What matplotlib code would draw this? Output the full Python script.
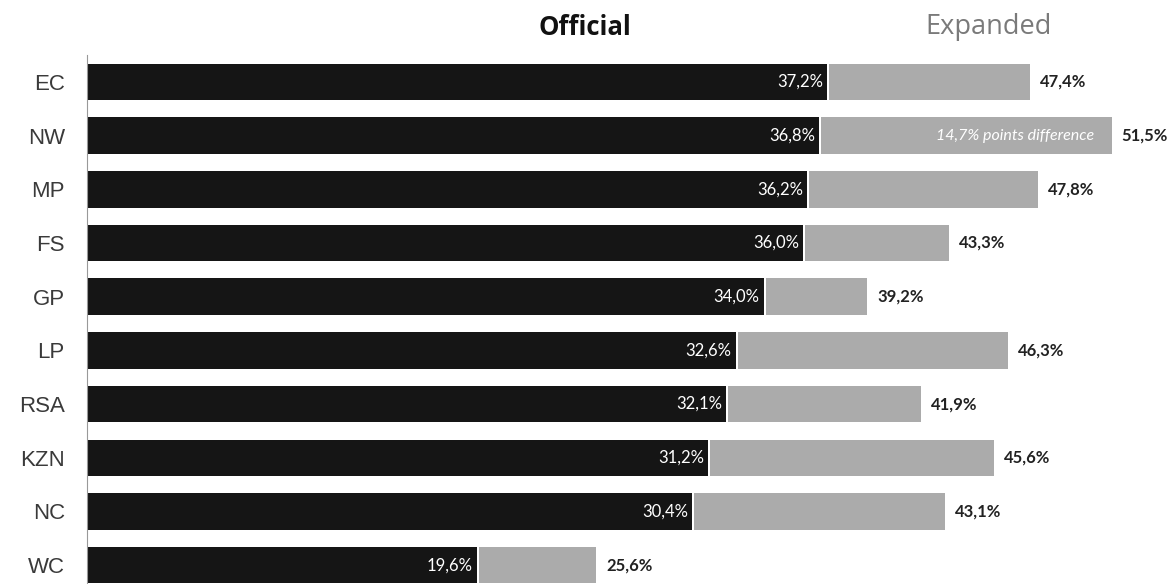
import matplotlib
matplotlib.use("Agg")
import matplotlib.pyplot as plt
import numpy as np

# Provinces, official vs expanded unemployment rate (%)
provinces = ["EC", "NW", "MP", "FS", "GP", "LP", "RSA", "KZN", "NC", "WC"]
official = [37.2, 36.8, 36.2, 36.0, 34.0, 32.6, 32.1, 31.2, 30.4, 19.6]
expanded = [47.4, 51.5, 47.8, 43.3, 39.2, 46.3, 41.9, 45.6, 43.1, 25.6]

dark = "#151515"
grey = "#ababab"

fig = plt.figure(figsize=(11.76, 5.84), dpi=100)
ax = fig.add_axes([87 / 1176, 0, (1176 - 87) / 1176, 529 / 584])

y = np.arange(len(provinces))
off = np.array(official)
exp = np.array(expanded)
h = 0.68

ax.barh(y, off, height=h, color=dark)
ax.barh(y, exp - off - 0.1, left=off + 0.1, height=h, color=grey)

for i in range(len(provinces)):
    ax.text(off[i] - 0.2, y[i], f"{official[i]:.1f}%".replace(".", ","),
            color="white", ha="right", va="center", fontsize=12, family="Lato")
    ax.text(exp[i] + 0.5, y[i], f"{expanded[i]:.1f}%".replace(".", ","),
            color="#222222", ha="left", va="center", fontsize=12,
            fontweight="bold", family="Lato")

# note inside the NW bar
nw = provinces.index("NW")
diff = expanded[nw] - official[nw]
ax.text(exp[nw] - 0.9, y[nw], f"{diff:.1f}% points difference".replace(".", ","),
        color="white", ha="right", va="center", fontsize=11.5, style="italic",
        family="Lato")

ax.set_xlim(0, (1176 - 87) / 19.9)
ax.set_ylim(9.35, -0.5)
ax.set_yticks(y, provinces)
ax.tick_params(axis="y", length=0, pad=16, labelsize=16, labelcolor="#3a3a3a")
for lab in ax.get_yticklabels():
    lab.set_family("Liberation Sans")
ax.set_xticks([])
for s in ["top", "right", "bottom"]:
    ax.spines[s].set_visible(False)
ax.spines["left"].set_color("#999999")
ax.spines["left"].set_linewidth(0.8)

fig.text(585 / 1176, 1 - 35 / 584, "Official", ha="center", va="baseline",
         fontsize=18.5, fontweight="bold", family="Open Sans", color="#111111")
fig.text(989 / 1176, 1 - 34 / 584, "Expanded", ha="center", va="baseline",
         fontsize=19.5, family="Open Sans", color="#7a7a7a")

fig.savefig("out.png", dpi=100)
